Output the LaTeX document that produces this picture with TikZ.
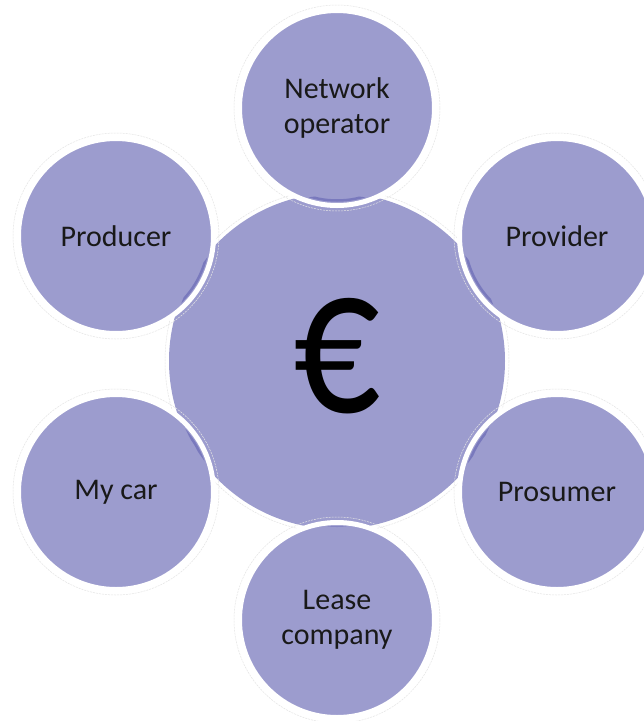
\documentclass[tikz,border=0pt]{standalone}
\usepackage{fontspec}
\setmainfont{Carlito}
\definecolor{bubble}{RGB}{156,156,206}
\definecolor{bubbledark}{RGB}{80,80,170}
\definecolor{labeltext}{RGB}{25,25,25}
\begin{document}
\begin{tikzpicture}[x=1pt,y=-1pt,
  hub/.style={circle,fill=bubble,minimum size=336pt,inner sep=0pt},
  sat/.style={circle,fill=bubble,draw=white,line width=5pt,minimum size=195pt,inner sep=0pt,
    font=\fontsize{30}{35}\selectfont,text=labeltext,align=center},
  halo/.style={draw=black!10,line width=0.5pt,dash pattern=on 2pt off 1pt},
  shadearc/.style={draw=bubbledark,line width=2.5pt,opacity=0.45},
  sym/.style={font=\fontsize{215}{215}\selectfont,text=black,inner sep=0pt}]
\useasboundingbox (0,0) rectangle (644,721);
\fill[white] (0,0) rectangle (644,721);
\node[hub] (c) at (337,361) {};
\draw[halo] (c.center) circle (172);
\node[sym] (euro) at (337,356) {\scalebox{0.8}[1]{€}};
\foreach \n/\x/\y/\t in {net/337/108/{Network\\operator},
                          prod/116/236/{Producer},
                          prov/557/236/{Provider},
                          car/116/492/{My car},
                          pros/557/492/{Prosumer},
                          lease/337/620/{Lease\\company}}{
  \draw[halo] (\x,\y) circle (103);
  \node[sat] (\n) at (\x,\y) {\t};
  \begin{scope}
    \clip (c.center) circle (166);
    \draw[shadearc] (\n.center) circle (92.5);
  \end{scope}
}
\end{tikzpicture}
\end{document}
